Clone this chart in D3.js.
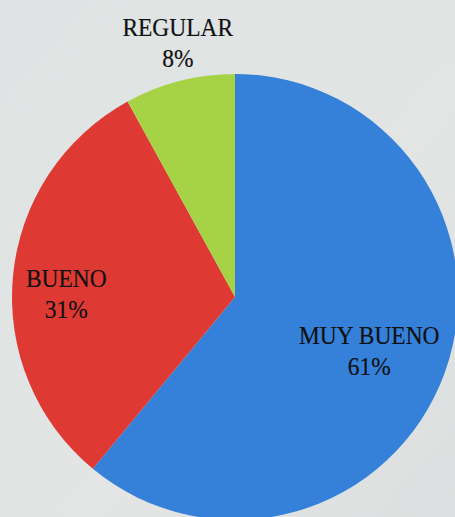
<!DOCTYPE html>
<html>
<head>
<meta charset="utf-8">
<script src="https://cdn.jsdelivr.net/npm/d3@7"></script>
<style>
  html, body { margin: 0; padding: 0; overflow: hidden; }
  text { font-family: "Liberation Serif", "Times New Roman", serif; }
</style>
</head>
<body>
<div id="chart"></div>
<script>
// data
let categories = ["MUY BUENO", "BUENO", "REGULAR"];
let percents = [61, 31, 8];
let colors = ["#3580d9", "#de3a33", "#a6d345"];

let width = 455, height = 517;
let cx = 235, cy = 297, radius = 223;

let svg = d3.select("#chart").append("svg")
    .attr("width", width)
    .attr("height", height);

// soft grey background
let defs = svg.append("defs");
let grad = defs.append("linearGradient")
    .attr("id", "bg")
    .attr("x1", "0").attr("y1", "0")
    .attr("x2", "1").attr("y2", "1");
grad.append("stop").attr("offset", "0%").attr("stop-color", "#dfe3e3");
grad.append("stop").attr("offset", "60%").attr("stop-color", "#e2e5e4");
grad.append("stop").attr("offset", "100%").attr("stop-color", "#dcdfdf");

svg.append("rect")
    .attr("width", width)
    .attr("height", height)
    .attr("fill", "url(#bg)");

let g = svg.append("g")
    .attr("transform", "translate(" + cx + "," + cy + ")");

let pie = d3.pie().sort(null).value(d => d);
let arcs = pie(percents);

let arc = d3.arc().innerRadius(0).outerRadius(radius);

g.selectAll("path")
    .data(arcs)
    .enter()
    .append("path")
    .attr("d", arc)
    .attr("fill", (d, i) => colors[i]);

// label placement (best fit like the office chart): share of radius + nudge
function labelPos(d, i) {
    let a = (d.startAngle + d.endAngle) / 2;
    let f = [0.64, 0.76, 1.176][i];
    let nudge = [[0, 5], [0, 12], [8, -1]][i];
    let r = radius * f;
    return [r * Math.sin(a) + nudge[0], -r * Math.cos(a) + nudge[1]];
}

// the serif in the original is a bit narrower than Liberation Serif
let labels = g.selectAll(".label")
    .data(arcs)
    .enter()
    .append("text")
    .attr("class", "label")
    .attr("text-anchor", "middle")
    .attr("font-size", "25.5px")
    .attr("fill", "#111")
    .attr("stroke", "#111")
    .attr("stroke-width", 0.2)
    .attr("transform", function (d, i) {
        return "translate(" + labelPos(d, i) + ") scale(0.92,1)";
    });

labels.append("tspan")
    .attr("x", 0)
    .attr("y", -6)
    .text((d, i) => categories[i]);

labels.append("tspan")
    .attr("x", 0)
    .attr("y", 25)
    .text((d, i) => percents[i] + "%");
</script>
</body>
</html>
